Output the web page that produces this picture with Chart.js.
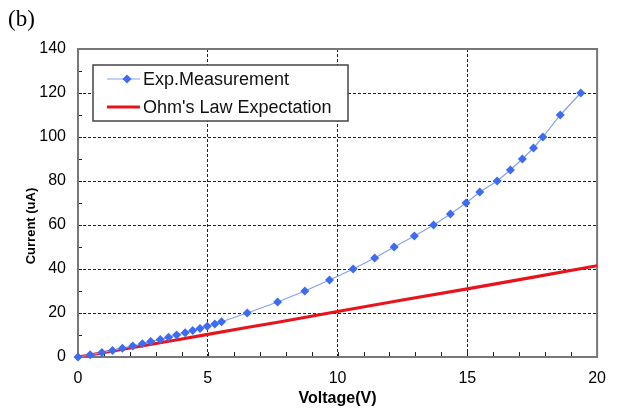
<!DOCTYPE html>
<html>
<head>
<meta charset="utf-8">
<script src="https://cdn.jsdelivr.net/npm/chart.js"></script>
<style>
  html, body { margin: 0; padding: 0; background: #fff; }
  #wrap { position: relative; width: 618px; height: 410px; }
  #tag { position: absolute; left: 8px; top: 6px; font: 23px "Liberation Serif", "Times New Roman", serif; color: #000; }
  #ytitle {
    position: absolute; left: 30px; top: 226px; white-space: nowrap;
    font: bold 13px "Liberation Sans", Arial, sans-serif; color: #000;
    transform: translate(-50%, -50%) rotate(-90deg);
  }
</style>
</head>
<body>
<div id="wrap">
  <canvas id="chart" width="618" height="410"></canvas>
  <div id="tag">(b)</div>
  <div id="ytitle">Current (uA)</div>
</div>
<script>
// measured I-V points
const voltage = [0, 0.47, 0.92, 1.33, 1.71, 2.11, 2.48, 2.8, 3.17, 3.49, 3.8, 4.13, 4.42, 4.7, 4.98, 5.27, 5.53,
  6.52, 7.69, 8.74, 9.69, 10.6, 11.43, 12.18, 12.96, 13.7, 14.35, 14.95, 15.48, 16.15, 16.66, 17.12, 17.55, 17.91, 18.58, 19.37];
const current = [0, 1, 2, 3, 4, 5, 6, 7, 8, 9, 10, 11, 12, 13, 14, 15, 16,
  20, 25, 30, 35, 40, 45, 50, 55, 60, 65, 70, 75, 80, 85, 90, 95, 100, 110, 120];

// ohm's law line
const ohmVoltage = [0, 2, 4, 5, 6.5, 7.7, 10, 12.5, 15, 17.5, 20];
const ohmCurrent = [0, 4.1, 8.2, 10.3, 13.4, 15.8, 20.7, 25.9, 31.0, 36.2, 41.5];

const seriesNames = ['Exp.Measurement', "Ohm's Law Expectation"];
const xTickLabels = [0, 5, 10, 15, 20];
const yTickLabels = [0, 20, 40, 60, 80, 100, 120, 140];

const toPoints = (xs, ys) => xs.map((x, i) => ({ x: x, y: ys[i] }));

const blue = '#3d6cf2';
const red = '#e8141c';

// frame, minor ticks and the boxed legend
const extras = {
  id: 'extras',
  beforeDatasetsDraw(chart) {
    const { ctx, chartArea: a, scales } = chart;
    ctx.save();
    ctx.strokeStyle = '#222';
    ctx.lineWidth = 1;
    for (let v = 1; v < 20; v++) {
      const px = Math.round(scales.x.getPixelForValue(v)) + 0.5;
      ctx.beginPath();
      ctx.moveTo(px, a.bottom);
      ctx.lineTo(px, a.bottom - 5);
      ctx.stroke();
    }
    for (let v = 10; v < 140; v += 10) {
      const py = Math.round(scales.y.getPixelForValue(v)) + 0.5;
      ctx.beginPath();
      ctx.moveTo(a.left, py);
      ctx.lineTo(a.left + 4, py);
      ctx.stroke();
    }
    ctx.strokeStyle = '#777';
    ctx.lineWidth = 2;
    ctx.strokeRect(a.left, a.top, a.right - a.left, a.bottom - a.top);
    ctx.restore();
  },
  afterDatasetsDraw(chart) {
    const { ctx, chartArea: a } = chart;
    ctx.save();
    const lx = a.left + 15, ly = a.top + 16, lw = 255, lh = 56;
    ctx.fillStyle = '#fff';
    ctx.fillRect(lx, ly, lw, lh);
    ctx.strokeStyle = '#444';
    ctx.lineWidth = 1.5;
    ctx.strokeRect(lx, ly, lw, lh);
    ctx.font = '18px "Liberation Sans", Arial, sans-serif';
    ctx.textBaseline = 'middle';
    const rows = [ly + 14, ly + 42];
    // blue entry
    ctx.strokeStyle = '#86a2ee';
    ctx.lineWidth = 1.2;
    ctx.beginPath();
    ctx.moveTo(lx + 14, rows[0]);
    ctx.lineTo(lx + 47, rows[0]);
    ctx.stroke();
    ctx.fillStyle = blue;
    ctx.beginPath();
    ctx.moveTo(lx + 34, rows[0] - 4.5);
    ctx.lineTo(lx + 38.5, rows[0]);
    ctx.lineTo(lx + 34, rows[0] + 4.5);
    ctx.lineTo(lx + 29.5, rows[0]);
    ctx.closePath();
    ctx.fill();
    // red entry
    ctx.strokeStyle = red;
    ctx.lineWidth = 3;
    ctx.beginPath();
    ctx.moveTo(lx + 14, rows[1]);
    ctx.lineTo(lx + 47, rows[1]);
    ctx.stroke();
    ctx.fillStyle = '#111';
    ctx.fillText(seriesNames[0], lx + 50, rows[0] + 1);
    ctx.fillText(seriesNames[1], lx + 50, rows[1] + 1);
    ctx.restore();
  }
};

new Chart(document.getElementById('chart'), {
  type: 'scatter',
  data: {
    datasets: [
      {
        label: seriesNames[1],
        data: toPoints(ohmVoltage, ohmCurrent),
        showLine: true,
        borderColor: red,
        borderWidth: 3.2,
        pointRadius: 0,
        order: 2
      },
      {
        label: seriesNames[0],
        data: toPoints(voltage, current),
        showLine: true,
        clip: false,
        borderColor: '#86a2ee',
        borderWidth: 1.2,
        pointStyle: 'rectRot',
        pointRadius: 4.5,
        pointBackgroundColor: blue,
        pointBorderColor: blue,
        pointBorderWidth: 0,
        order: 1
      }
    ]
  },
  options: {
    responsive: false,
    animation: false,
    layout: { padding: { left: 19, top: 49, right: 18, bottom: 0 } },
    plugins: { legend: { display: false }, tooltip: { enabled: false } },
    scales: {
      x: {
        type: 'linear',
        min: 0,
        max: 20,
        afterBuildTicks: (s) => { s.ticks = xTickLabels.map(v => ({ value: v })); },
        afterFit: (s) => { s.height = 53; },
        ticks: {
          color: '#000',
          padding: 12,
          font: { family: '"Liberation Sans", Arial, sans-serif', size: 16 }
        },
        grid: {
          drawTicks: false,
          color: (c) => (c.tick && c.tick.value > 0 && c.tick.value < 20) ? '#222' : 'transparent',
          lineWidth: 1
        },
        border: { display: false, dash: [3, 2] },
        title: {
          display: true,
          text: 'Voltage(V)',
          color: '#000',
          padding: { top: 0, bottom: 2 },
          font: { family: '"Liberation Sans", Arial, sans-serif', size: 16, weight: 'bold' }
        }
      },
      y: {
        type: 'linear',
        min: 0,
        max: 140,
        afterBuildTicks: (s) => {
          const t = [];
          for (let v = 0; v <= 140; v += 10) t.push({ value: v });
          s.ticks = t;
        },
        afterFit: (s) => { s.width = 59; },
        ticks: {
          color: '#000',
          padding: 12,
          font: { family: '"Liberation Sans", Arial, sans-serif', size: 16 },
          callback: (v) => yTickLabels.includes(v) ? String(v) : ''
        },
        grid: {
          drawTicks: false,
          color: (c) => (c.tick && c.tick.value > 0 && c.tick.value < 140) ? '#222' : 'transparent',
          lineWidth: 1
        },
        border: { display: false, dash: [3, 2] }
      }
    }
  },
  plugins: [extras]
});
</script>
</body>
</html>
